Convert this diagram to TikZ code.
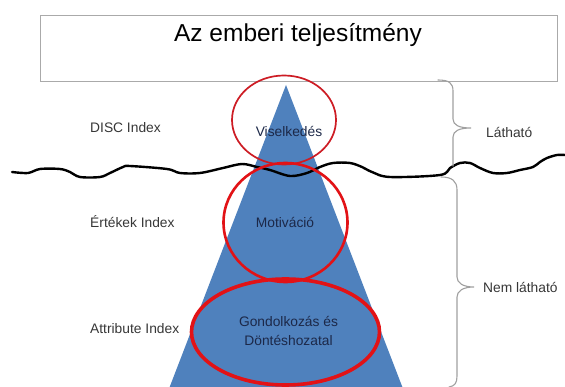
\documentclass[tikz,border=0pt]{standalone}
\usepackage{fontspec}
\setmainfont{Liberation Sans}
\definecolor{triblue}{RGB}{79,129,189}
\definecolor{ringred}{RGB}{226,18,22}
\definecolor{topred}{RGB}{205,28,36}
\definecolor{labelgray}{RGB}{55,55,55}
\definecolor{navy}{RGB}{28,40,72}
\definecolor{bracegray}{RGB}{160,160,160}
\definecolor{boxgray}{RGB}{170,170,170}
\begin{document}
\begin{tikzpicture}[x=1pt,y=-1pt,
  lbl/.style={font=\fontsize{13.8}{16}\selectfont, text=labelgray, inner sep=0pt},
  ilbl/.style={font=\fontsize{13.8}{19.5}\selectfont, text=navy, inner sep=0pt},
  brace/.style={draw=bracegray, line width=1.1pt, line cap=round},
  ring/.style={draw=ringred, line width=2.6pt}]
\useasboundingbox (0,0) rectangle (565,387);
\fill[white] (0,0) rectangle (565,387);
% title box
\node[draw=boxgray, line width=1.2pt, minimum width=517pt, minimum height=66pt, inner sep=0pt, anchor=north west] (box) at (40,15) {};
\node[font=\fontsize{24.5}{28}\selectfont, anchor=base] (title) at (298,42) {Az emberi teljesítmény};
% iceberg triangle
\coordinate (apex) at (286,85);
\coordinate (bl) at (168.5,390);
\coordinate (br) at (403.5,390);
\fill[triblue] (apex) -- (br) -- (bl) -- cycle;
% water line
\draw[line width=2.4pt, line join=round, line cap=round] plot[smooth, tension=0.55] coordinates {
 (12,172) (28,173) (40,169) (60,169) (70,172) (80,177) (100,177) (110,173) (123,167) (130,166)
 (167,169) (180,173) (200,173) (223,168) (242,164) (257,167) (270,170) (290,176) (307,173)
 (320,167) (333,163) (350,163) (362,167) (372,172) (390,177) (440,175) (450,168) (460,163)
 (470,163) (480,168) (493,173) (507,173) (520,170) (533,167) (540,162) (547,158) (557,155) (565,155)};
% rings
\draw[ring, draw=topred, line width=1.7pt] (284,120) ellipse [x radius=52, y radius=44.5];
\draw[ring] (285.5,222.5) ellipse [x radius=62, y radius=59.5];
\draw[ring, line width=3.6pt] (285.5,332) ellipse [x radius=94, y radius=53];
% labels
\node[lbl, anchor=west] (disc) at (90,128) {DISC Index};
\node[lbl, anchor=west] (ert) at (90,222) {Értékek Index};
\node[lbl, anchor=west] (attr) at (90,329) {Attribute Index};
\node[ilbl] (vis) at (289,131) {Viselkedés};
\node[ilbl] (mot) at (285,222) {Motiváció};
\node[ilbl, align=center] (gon) at (288.5,331) {Gondolkozás és\\Döntéshozatal};
\node[lbl, anchor=west] (lat) at (486,132) {Látható};
\node[lbl, anchor=west] (nem) at (483,287) {Nem látható};
% braces
\draw[brace] (438,80) .. controls (449,80) and (453,83) .. (453,91) -- (453,119)
  .. controls (453,125) and (459,128) .. (471,128)
  .. controls (459,128) and (453,131) .. (453,137) -- (453,166);
\draw[brace] (441,177) .. controls (452,177) and (457,181) .. (457,190) -- (457,277)
  .. controls (457,283) and (463,287) .. (474,287)
  .. controls (463,287) and (457,291) .. (457,297) -- (457,376)
  .. controls (457,383) and (455,386) .. (449,387);
\end{tikzpicture}
\end{document}
